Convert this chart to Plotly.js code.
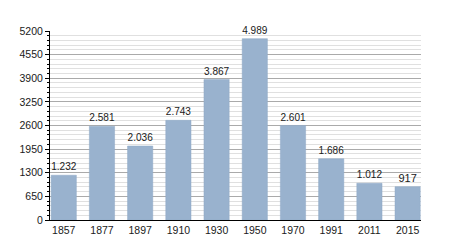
<!DOCTYPE html>
<html><head><meta charset="utf-8">
<script src="https://cdn.plot.ly/plotly-3.0.1.min.js"></script>
<style>html,body{margin:0;padding:0;background:#fff}</style>
</head><body><div id="c" style="width:450px;height:250px"></div>
<script>
var years = ["1857","1877","1897","1910","1930","1950","1970","1991","2011","2015"];
var population = [1232, 2581, 2036, 2743, 3867, 4989, 2601, 1686, 1012, 917];
var labels = ["1.232","2.581","2.036","2.743","3.867","4.989","2.601","1.686","1.012","917"];

Plotly.newPlot('c', [{
  type: 'bar', x: years, y: population, text: labels,
  textposition: 'outside', cliponaxis: false,
  textfont: {family: 'Liberation Sans, Arial, sans-serif', size: 11, color: '#1a1a1a'},
  marker: {color: '#99b2ce', line: {color: '#8ea8c6', width: 0.5}},
  width: 0.66, hoverinfo: 'none'
}], {
  width: 450, height: 250,
  margin: {l: 50, r: 29, t: 31, b: 30},
  paper_bgcolor: '#fff', plot_bgcolor: '#fff',
  showlegend: false,
  font: {family: 'Liberation Sans, Arial, sans-serif', size: 10.5, color: '#1a1a1a'},
  xaxis: {type: 'category', range: [-0.36, 9.35], showline: true, linecolor: '#000', linewidth: 1,
          ticks: '', showgrid: false, tickfont: {size: 10.5}, fixedrange: true},
  yaxis: {range: [0, 5200], dtick: 650, tick0: 0, showline: true, linecolor: '#000', linewidth: 1,
          ticks: 'outside', ticklen: 4, tickcolor: '#000', showgrid: true, gridcolor: '#aaa', gridwidth: 1,
          zeroline: false, tickfont: {size: 10.5}, tickformat: 'd',
          minor: {dtick: 130, tick0: 0, showgrid: true, gridcolor: '#e0e0e0', gridwidth: 1,
                  ticks: 'outside', ticklen: 2, tickcolor: '#000'}}
}, {staticPlot: true});
</script></body></html>
